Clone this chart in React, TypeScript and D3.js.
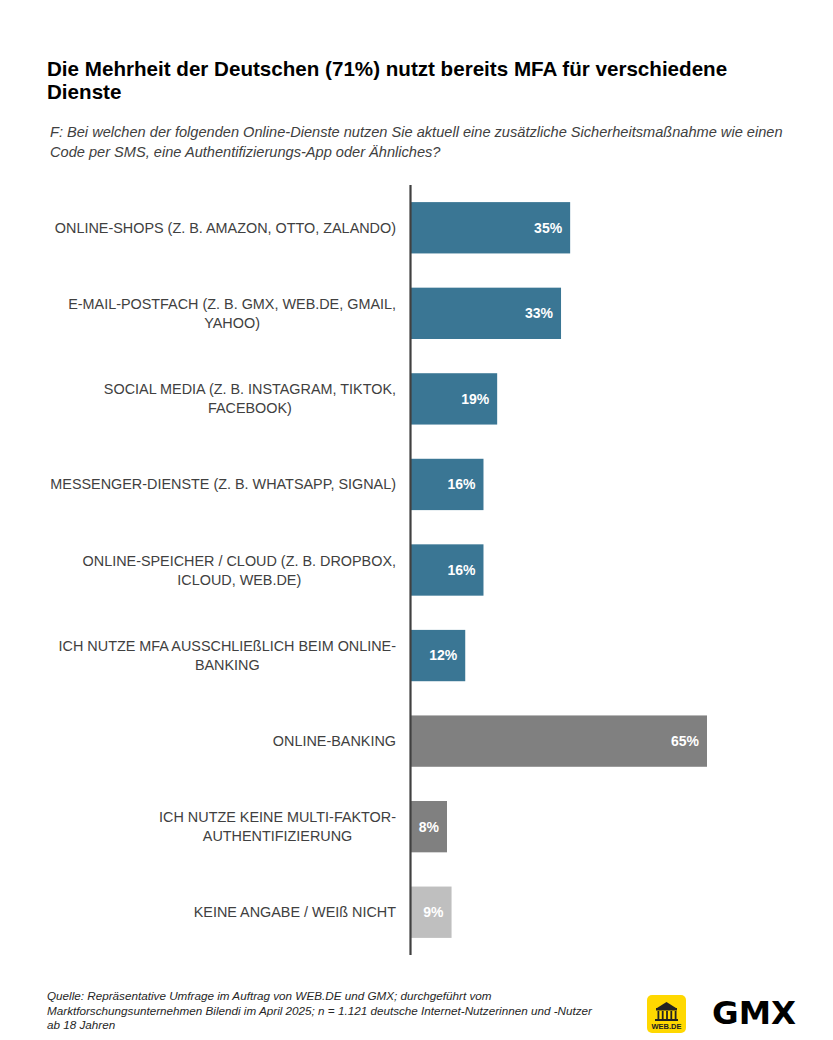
import { useEffect, useRef } from "react";
import * as d3 from "d3";

const categories: string[][] = [
  ["ONLINE-SHOPS (Z. B. AMAZON, OTTO, ZALANDO)"],
  ["E-MAIL-POSTFACH (Z. B. GMX, WEB.DE, GMAIL,", "YAHOO)"],
  ["SOCIAL MEDIA (Z. B. INSTAGRAM, TIKTOK,", "FACEBOOK)"],
  ["MESSENGER-DIENSTE (Z. B. WHATSAPP, SIGNAL)"],
  ["ONLINE-SPEICHER / CLOUD (Z. B. DROPBOX,", "ICLOUD, WEB.DE)"],
  ["ICH NUTZE MFA AUSSCHLIEßLICH BEIM ONLINE-", "BANKING"],
  ["ONLINE-BANKING"],
  ["ICH NUTZE KEINE MULTI-FAKTOR-", "AUTHENTIFIZIERUNG"],
  ["KEINE ANGABE / WEIß NICHT"],
];
const values = [35, 33, 19, 16, 16, 12, 65, 8, 9];
const groups = ["mfa", "mfa", "mfa", "mfa", "mfa", "mfa", "bank", "none", "na"];
const groupColors: Record<string, string> = {
  mfa: "#3a7694",
  bank: "#808080",
  none: "#808080",
  na: "#bfbfbf",
};

const title = ["Die Mehrheit der Deutschen (71%) nutzt bereits MFA für verschiedene", "Dienste"];
const question = [
  "F: Bei welchen der folgenden Online-Dienste nutzen Sie aktuell eine zusätzliche Sicherheitsmaßnahme wie einen",
  "Code per SMS, eine Authentifizierungs-App oder Ähnliches?",
];
const source = [
  "Quelle: Repräsentative Umfrage im Auftrag von WEB.DE und GMX; durchgeführt vom",
  "Marktforschungsunternehmen Bilendi im April 2025; n = 1.121 deutsche Internet-Nutzerinnen und -Nutzer",
  "ab 18 Jahren",
];

const FONT = "'Liberation Sans', Arial, sans-serif";

export default function App() {
  const ref = useRef<SVGSVGElement>(null);

  useEffect(() => {
    if (!ref.current) return;
    const svg = d3.select(ref.current);
    svg.selectAll("*").remove();

    const W = 833, H = 1040;
    svg.attr("width", W).attr("height", H).attr("viewBox", `0 0 ${W} ${H}`);
    svg.append("rect").attr("width", W).attr("height", H).attr("fill", "#fff");

    // Title
    svg.append("g").selectAll("text").data(title).enter().append("text")
      .attr("x", 47).attr("y", (_, i) => 76 + i * 23)
      .attr("font-family", FONT).attr("font-size", "20.6px").attr("font-weight", 700)
      .attr("fill", "#000").text(d => d);

    // Question
    svg.append("g").selectAll("text").data(question).enter().append("text")
      .attr("x", 50).attr("y", (_, i) => 137 + i * 20)
      .attr("font-family", FONT).attr("font-size", "14.6px").attr("font-style", "italic")
      .attr("fill", "#404040").text(d => d);

    const x0 = 410.5;
    const x = d3.scaleLinear().domain([0, 65]).range([x0, 707]);
    const y = d3.scaleBand<number>().domain(d3.range(values.length)).range([185, 955])
      .paddingInner(0.4).paddingOuter(0.2);

    const rows = svg.append("g").selectAll("g").data(values).enter().append("g");

    rows.append("rect")
      .attr("x", x0)
      .attr("y", (_, i) => y(i)!)
      .attr("width", d => x(d) - x0)
      .attr("height", y.bandwidth())
      .attr("fill", (_, i) => groupColors[groups[i]]);

    rows.append("text")
      .attr("x", d => x(d) - 8)
      .attr("y", (_, i) => y(i)! + y.bandwidth() / 2)
      .attr("dy", "0.35em")
      .attr("text-anchor", "end")
      .attr("font-family", FONT).attr("font-size", "14px").attr("font-weight", 700)
      .attr("fill", "#fff")
      .text(d => `${d}%`);

    // Category labels: block right-aligned at 396, lines centred inside the block
    const labelRight = 396;
    rows.each(function (_, i) {
      const lines = categories[i];
      const cy = y(i)! + y.bandwidth() / 2;
      const lh = 19;
      const t = d3.select(this).append("text")
        .attr("text-anchor", "middle")
        .attr("font-family", FONT).attr("font-size", "14.4px")
        .attr("fill", "#404040");
      const spans = lines.map((l, k) =>
        t.append("tspan")
          .attr("y", cy + (k - (lines.length - 1) / 2) * lh)
          .attr("dy", "0.35em")
          .text(l)
      );
      const maxW = d3.max(spans, s => (s.node() as SVGTSpanElement).getComputedTextLength()) ?? 0;
      spans.forEach(s => s.attr("x", labelRight - maxW / 2));
    });

    // Axis line
    svg.append("line")
      .attr("x1", x0).attr("x2", x0).attr("y1", 185).attr("y2", 955)
      .attr("stroke", "#404040").attr("stroke-width", 2.2);

    // Source
    svg.append("g").selectAll("text").data(source).enter().append("text")
      .attr("x", 47).attr("y", (_, i) => 1000 + i * 14.5)
      .attr("font-family", FONT).attr("font-size", "11.7px").attr("font-style", "italic")
      .attr("fill", "#262626").text(d => d);

    // WEB.DE logo
    const lg = svg.append("g").attr("transform", "translate(647,995)");
    lg.append("rect").attr("width", 39).attr("height", 38).attr("rx", 5).attr("fill", "#ffd800");
    lg.append("path").attr("d", "M10 13 L19.5 7 L29 13 Z").attr("fill", "#222");
    lg.append("rect").attr("x", 9).attr("y", 13).attr("width", 21).attr("height", 2.5).attr("fill", "#222");
    d3.range(5).forEach(k => {
      lg.append("rect").attr("x", 10.5 + k * 4.3).attr("y", 16).attr("width", 1.8).attr("height", 8).attr("fill", "#222");
    });
    lg.append("rect").attr("x", 8).attr("y", 24).attr("width", 23).attr("height", 2).attr("fill", "#222");
    lg.append("text").attr("x", 19.5).attr("y", 34).attr("text-anchor", "middle")
      .attr("font-family", FONT).attr("font-size", "7.5px").attr("font-weight", 700)
      .attr("fill", "#222").text("WEB.DE");

    // GMX logo
    svg.append("text").attr("x", 712).attr("y", 1024)
      .attr("font-family", "'DejaVu Sans', sans-serif").attr("font-size", "32px").attr("font-weight", 700)
      .attr("textLength", 84).attr("lengthAdjust", "spacingAndGlyphs")
      .attr("fill", "#000").text("GMX");
  }, []);

  return <svg ref={ref} style={{ display: "block", position: "absolute", left: 0, top: 0 }} />;
}
